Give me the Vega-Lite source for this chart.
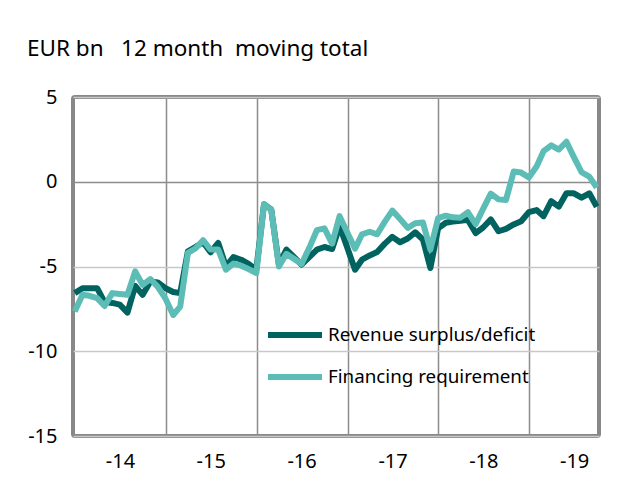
{
  "$schema": "https://vega.github.io/schema/vega-lite/v6.json",
  "width": 526,
  "height": 339,
  "autosize": "none",
  "padding": {"left": 73, "top": 97, "right": 32, "bottom": 52},
  "background": "white",
  "title": {
    "text": "EUR bn\u00a0\u00a0\u00a012\u00a0month\u00a0 moving total",
    "anchor": "start",
    "frame": "group",
    "dx": -46,
    "offset": 27,
    "fontSize": 22.5,
    "font": "Noto Sans",
    "fontWeight": "normal",
    "color": "#000000"
  },
  "config": {
    "view": {"stroke": "#888888", "strokeWidth": 4, "cornerRadius": 2},
    "font": "Noto Sans"
  },
  "data": {
    "values": [
      {"date": "2013-12-31", "Revenue surplus/deficit": -6.57, "Financing requirement": -7.66},
      {"date": "2014-01-31", "Revenue surplus/deficit": -6.28, "Financing requirement": -6.67},
      {"date": "2014-02-28", "Revenue surplus/deficit": -6.28, "Financing requirement": -6.73},
      {"date": "2014-03-31", "Revenue surplus/deficit": -6.28, "Financing requirement": -6.87},
      {"date": "2014-04-30", "Revenue surplus/deficit": -7.1, "Financing requirement": -7.33},
      {"date": "2014-05-31", "Revenue surplus/deficit": -7.15, "Financing requirement": -6.57},
      {"date": "2014-06-30", "Revenue surplus/deficit": -7.25, "Financing requirement": -6.62},
      {"date": "2014-07-31", "Revenue surplus/deficit": -7.72, "Financing requirement": -6.67},
      {"date": "2014-08-31", "Revenue surplus/deficit": -6.14, "Financing requirement": -5.29},
      {"date": "2014-09-30", "Revenue surplus/deficit": -6.67, "Financing requirement": -6.08},
      {"date": "2014-10-31", "Revenue surplus/deficit": -5.88, "Financing requirement": -5.74},
      {"date": "2014-11-30", "Revenue surplus/deficit": -5.94, "Financing requirement": -6.2},
      {"date": "2014-12-31", "Revenue surplus/deficit": -6.28, "Financing requirement": -6.9},
      {"date": "2015-01-31", "Revenue surplus/deficit": -6.5, "Financing requirement": -7.86},
      {"date": "2015-02-28", "Revenue surplus/deficit": -6.57, "Financing requirement": -7.37},
      {"date": "2015-03-31", "Revenue surplus/deficit": -4.1, "Financing requirement": -4.2},
      {"date": "2015-04-30", "Revenue surplus/deficit": -3.85, "Financing requirement": -3.94},
      {"date": "2015-05-31", "Revenue surplus/deficit": -3.57, "Financing requirement": -3.45},
      {"date": "2015-06-30", "Revenue surplus/deficit": -4.16, "Financing requirement": -4.0},
      {"date": "2015-07-31", "Revenue surplus/deficit": -3.61, "Financing requirement": -4.0},
      {"date": "2015-08-31", "Revenue surplus/deficit": -5.0, "Financing requirement": -5.19},
      {"date": "2015-09-30", "Revenue surplus/deficit": -4.44, "Financing requirement": -4.83},
      {"date": "2015-10-31", "Revenue surplus/deficit": -4.6, "Financing requirement": -4.95},
      {"date": "2015-11-30", "Revenue surplus/deficit": -4.85, "Financing requirement": -5.15},
      {"date": "2015-12-31", "Revenue surplus/deficit": -5.19, "Financing requirement": -5.39},
      {"date": "2016-01-31", "Revenue surplus/deficit": -1.33, "Financing requirement": -1.33},
      {"date": "2016-02-29", "Revenue surplus/deficit": -1.63, "Financing requirement": -1.63},
      {"date": "2016-03-31", "Revenue surplus/deficit": -4.89, "Financing requirement": -5.0},
      {"date": "2016-04-30", "Revenue surplus/deficit": -4.0, "Financing requirement": -4.25},
      {"date": "2016-05-31", "Revenue surplus/deficit": -4.45, "Financing requirement": -4.55},
      {"date": "2016-06-30", "Revenue surplus/deficit": -4.89, "Financing requirement": -4.85},
      {"date": "2016-07-31", "Revenue surplus/deficit": -4.45, "Financing requirement": -3.9},
      {"date": "2016-08-31", "Revenue surplus/deficit": -4.0, "Financing requirement": -2.85},
      {"date": "2016-09-30", "Revenue surplus/deficit": -3.85, "Financing requirement": -2.75},
      {"date": "2016-10-31", "Revenue surplus/deficit": -3.97, "Financing requirement": -3.65},
      {"date": "2016-11-30", "Revenue surplus/deficit": -2.62, "Financing requirement": -2.03},
      {"date": "2016-12-31", "Revenue surplus/deficit": -3.9, "Financing requirement": -3.0},
      {"date": "2017-01-31", "Revenue surplus/deficit": -5.19, "Financing requirement": -3.95},
      {"date": "2017-02-28", "Revenue surplus/deficit": -4.6, "Financing requirement": -3.1},
      {"date": "2017-03-31", "Revenue surplus/deficit": -4.35, "Financing requirement": -2.95},
      {"date": "2017-04-30", "Revenue surplus/deficit": -4.15, "Financing requirement": -3.1},
      {"date": "2017-05-31", "Revenue surplus/deficit": -3.65, "Financing requirement": -2.35},
      {"date": "2017-06-30", "Revenue surplus/deficit": -3.25, "Financing requirement": -1.7},
      {"date": "2017-07-31", "Revenue surplus/deficit": -3.57, "Financing requirement": -2.2},
      {"date": "2017-08-31", "Revenue surplus/deficit": -3.35, "Financing requirement": -2.72},
      {"date": "2017-09-30", "Revenue surplus/deficit": -2.98, "Financing requirement": -2.45},
      {"date": "2017-10-31", "Revenue surplus/deficit": -3.41, "Financing requirement": -2.4},
      {"date": "2017-11-30", "Revenue surplus/deficit": -5.09, "Financing requirement": -4.0},
      {"date": "2017-12-31", "Revenue surplus/deficit": -2.75, "Financing requirement": -2.15},
      {"date": "2018-01-31", "Revenue surplus/deficit": -2.42, "Financing requirement": -2.0},
      {"date": "2018-02-28", "Revenue surplus/deficit": -2.35, "Financing requirement": -2.1},
      {"date": "2018-03-31", "Revenue surplus/deficit": -2.3, "Financing requirement": -2.12},
      {"date": "2018-04-30", "Revenue surplus/deficit": -2.25, "Financing requirement": -1.8},
      {"date": "2018-05-31", "Revenue surplus/deficit": -3.03, "Financing requirement": -2.5},
      {"date": "2018-06-30", "Revenue surplus/deficit": -2.7, "Financing requirement": -1.6},
      {"date": "2018-07-31", "Revenue surplus/deficit": -2.22, "Financing requirement": -0.7},
      {"date": "2018-08-31", "Revenue surplus/deficit": -2.92, "Financing requirement": -1.04},
      {"date": "2018-09-30", "Revenue surplus/deficit": -2.78, "Financing requirement": -1.07},
      {"date": "2018-10-31", "Revenue surplus/deficit": -2.52, "Financing requirement": 0.6},
      {"date": "2018-11-30", "Revenue surplus/deficit": -2.33, "Financing requirement": 0.54},
      {"date": "2018-12-31", "Revenue surplus/deficit": -1.79, "Financing requirement": 0.25},
      {"date": "2019-01-31", "Revenue surplus/deficit": -1.67, "Financing requirement": 0.9},
      {"date": "2019-02-28", "Revenue surplus/deficit": -2.03, "Financing requirement": 1.8},
      {"date": "2019-03-31", "Revenue surplus/deficit": -1.14, "Financing requirement": 2.15},
      {"date": "2019-04-30", "Revenue surplus/deficit": -1.47, "Financing requirement": 1.9},
      {"date": "2019-05-31", "Revenue surplus/deficit": -0.68, "Financing requirement": 2.36},
      {"date": "2019-06-30", "Revenue surplus/deficit": -0.68, "Financing requirement": 1.45},
      {"date": "2019-07-31", "Revenue surplus/deficit": -0.94, "Financing requirement": 0.56},
      {"date": "2019-08-31", "Revenue surplus/deficit": -0.68, "Financing requirement": 0.3},
      {"date": "2019-09-30", "Revenue surplus/deficit": -1.47, "Financing requirement": -0.34}
    ]
  },
  "transform": [
    {"fold": ["Revenue surplus/deficit", "Financing requirement"], "as": ["series", "value"]}
  ],
  "mark": {"type": "line", "strokeWidth": 6, "strokeJoin": "round", "strokeCap": "butt"},
  "encoding": {
    "x": {
      "field": "date",
      "type": "temporal",
      "scale": {
        "type": "utc",
        "domain": [
          {"year": 2013, "month": 12, "date": 24, "utc": true},
          {"year": 2019, "month": 10, "date": 9, "utc": true}
        ]
      },
      "axis": {
        "title": null,
        "values": [
          {"year": 2014, "month": 1, "date": 1, "utc": true},
          {"year": 2015, "month": 1, "date": 1, "utc": true},
          {"year": 2016, "month": 1, "date": 1, "utc": true},
          {"year": 2017, "month": 1, "date": 1, "utc": true},
          {"year": 2018, "month": 1, "date": 1, "utc": true},
          {"year": 2019, "month": 1, "date": 1, "utc": true}
        ],
        "labelExpr": "'-' + utcFormat(datum.value, '%y')",
        "labelOffset": 45,
        "labelAlign": "center",
        "labelPadding": 15,
        "labelFontSize": 20,
        "labelColor": "#000000",
        "labelFont": "Noto Sans",
        "domain": false,
        "ticks": false,
        "grid": true,
        "gridColor": "#8c8c8c",
        "gridWidth": 1.5,
        "gridOpacity": {"condition": {"test": "utcyear(datum.value) == 2014", "value": 0}, "value": 1}
      }
    },
    "y": {
      "field": "value",
      "type": "quantitative",
      "scale": {"domain": [-15, 5], "nice": false, "zero": false},
      "axis": {
        "title": null,
        "values": [-15, -10, -5, 0, 5],
        "labelExpr": "datum.value < 0 ? '-' + abs(datum.value) : '' + datum.value",
        "labelPadding": 16,
        "labelFontSize": 20,
        "labelColor": "#000000",
        "labelFont": "Noto Sans",
        "domain": false,
        "ticks": false,
        "grid": true,
        "gridWidth": 1.5,
        "gridColor": {"condition": {"test": "datum.value === 0", "value": "#8c8c8c"}, "value": "#c8c8c8"}
      }
    },
    "color": {
      "field": "series",
      "type": "nominal",
      "scale": {
        "domain": ["Revenue surplus/deficit", "Financing requirement"],
        "range": ["#00635f", "#5bbdb6"]
      },
      "legend": {
        "title": null,
        "orient": "none",
        "legendX": 192,
        "legendY": 208,
        "symbolType": "stroke",
        "symbolSize": 2916,
        "symbolStrokeWidth": 6,
        "labelFontSize": 18.8,
        "labelFont": "Noto Sans",
        "labelColor": "#000000",
        "labelOffset": 3,
        "labelLimit": 0,
        "rowPadding": -3,
        "padding": 0
      }
    }
  }
}
